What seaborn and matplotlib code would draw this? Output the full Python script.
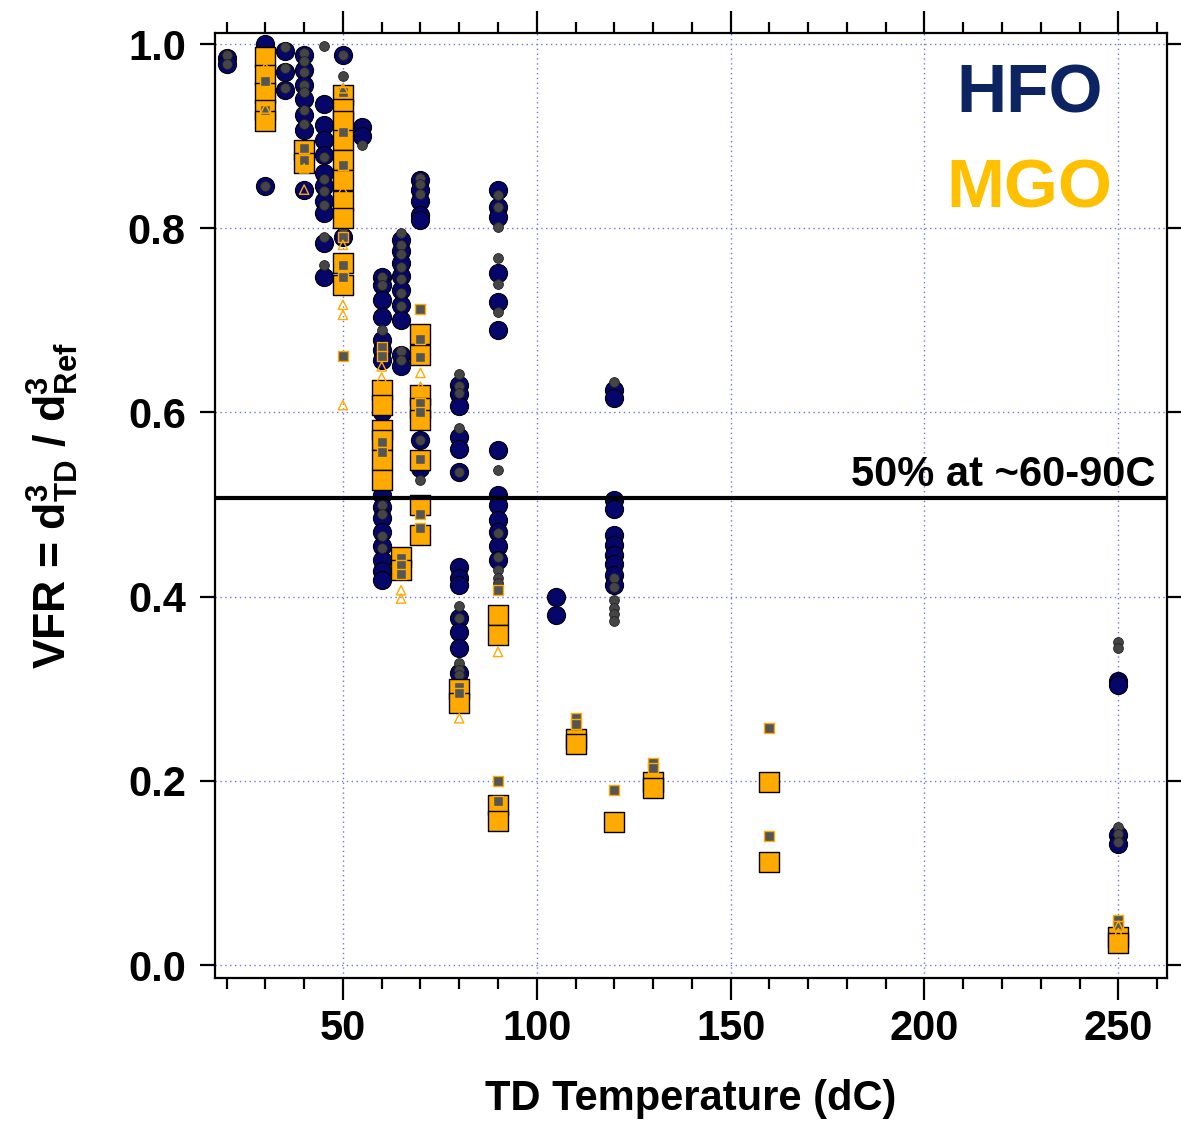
import matplotlib
matplotlib.use("Agg")
import matplotlib.pyplot as plt
from matplotlib.ticker import MultipleLocator, FormatStrFormatter
import seaborn as sns
import pandas as pd

# ---- data: VFR values per thermodenuder temperature ----
hfo = {
    20: [0.985, 0.978],
    30: [1.0, 0.986, 0.966, 0.945, 0.928, 0.846],
    35: [0.993, 0.970, 0.950],
    40: [0.988, 0.972, 0.956, 0.94, 0.923, 0.907, 0.885, 0.842],
    45: [0.935, 0.912, 0.896, 0.88, 0.86, 0.846, 0.83, 0.817, 0.784, 0.747],
    50: [0.988, 0.845, 0.79],
    55: [0.91, 0.9],
    60: [0.747, 0.738, 0.722, 0.704, 0.679, 0.668, 0.657, 0.6, 0.56, 0.51,
         0.497, 0.485, 0.47, 0.455, 0.44, 0.428, 0.418],
    65: [0.787, 0.775, 0.762, 0.748, 0.733, 0.717, 0.70, 0.662, 0.651],
    70: [0.852, 0.842, 0.83, 0.814, 0.809, 0.57, 0.55, 0.54],
    80: [0.63, 0.62, 0.607, 0.573, 0.56, 0.535, 0.432, 0.42, 0.413, 0.377,
         0.362, 0.344, 0.317],
    90: [0.842, 0.823, 0.812, 0.751, 0.72, 0.69, 0.559, 0.51, 0.5, 0.483,
         0.47, 0.455, 0.44],
    105: [0.4, 0.38],
    120: [0.624, 0.616, 0.505, 0.495, 0.467, 0.456, 0.445, 0.435, 0.424, 0.413],
    250: [0.309, 0.304, 0.141, 0.132],
}
hfo_small = {
    20: [0.988, 0.978],
    30: [0.846],
    35: [0.997, 0.974, 0.952],
    40: [0.99, 0.982, 0.97, 0.956, 0.948, 0.928, 0.913],
    45: [0.998, 0.877, 0.853, 0.84, 0.825, 0.79, 0.76],
    50: [0.988, 0.965, 0.8],
    55: [0.89],
    60: [0.747, 0.738, 0.69, 0.5, 0.49, 0.466, 0.453],
    65: [0.795, 0.782, 0.772, 0.758, 0.745, 0.73, 0.716, 0.667, 0.657],
    70: [0.855, 0.848, 0.837, 0.57, 0.527],
    80: [0.642, 0.629, 0.621, 0.583, 0.535, 0.39, 0.377, 0.328, 0.32, 0.315],
    90: [0.836, 0.823, 0.801, 0.768, 0.74, 0.709, 0.538, 0.469, 0.443, 0.429,
         0.42, 0.415],
    120: [0.633, 0.42, 0.41, 0.396, 0.388, 0.381, 0.374],
    250: [0.351, 0.344, 0.15, 0.142, 0.134],
}
mgo = {
    30: [0.986, 0.966, 0.947, 0.928, 0.917],
    40: [0.885, 0.871],
    50: [0.945, 0.93, 0.917, 0.896, 0.874, 0.852, 0.83, 0.811, 0.762, 0.738],
    60: [0.624, 0.608, 0.581, 0.57, 0.548, 0.527],
    65: [0.443, 0.429],
    70: [0.685, 0.662, 0.619, 0.605, 0.592, 0.548, 0.5, 0.467],
    80: [0.3, 0.285],
    90: [0.38, 0.358, 0.174, 0.157],
    110: [0.246, 0.24],
    120: [0.155],
    130: [0.199, 0.192],
    160: [0.199, 0.112],
    250: [0.03, 0.024],
}
mgo_small = {
    30: [0.96, 0.928],
    40: [0.887, 0.874],
    50: [0.948, 0.904, 0.869, 0.79, 0.76, 0.747, 0.661],
    60: [0.671, 0.661, 0.568, 0.557],
    65: [0.442, 0.434, 0.425],
    70: [0.712, 0.68, 0.66, 0.61, 0.6, 0.55, 0.49, 0.475],
    80: [0.302, 0.295],
    90: [0.407, 0.2, 0.178],
    110: [0.268, 0.262],
    120: [0.19],
    130: [0.219, 0.214],
    160: [0.257, 0.14],
    250: [0.049, 0.043],
}
mgo_tri = {
    30: [0.975, 0.93],
    40: [0.865, 0.842],
    50: [0.952, 0.852, 0.842, 0.782, 0.717, 0.706, 0.608],
    60: [0.65, 0.638],
    65: [0.407, 0.398],
    70: [0.643, 0.628],
    80: [0.268],
    90: [0.34],
    250: [0.043, 0.035],
}
half_vfr = 0.507
y_ticks = [0.0, 0.2, 0.4, 0.6, 0.8, 1.0]
x_ticks = [50, 100, 150, 200, 250]


def to_frame(series):
    rows = [(t, v) for t, vals in series.items() for v in vals]
    return pd.DataFrame(rows, columns=["temp", "vfr"])


sns.set_style("white")
plt.rcParams["font.family"] = ["Liberation Sans", "DejaVu Sans"]
plt.rcParams["font.weight"] = "bold"
plt.rcParams["text.color"] = "black"
plt.rcParams["axes.labelcolor"] = "black"
plt.rcParams["xtick.color"] = "black"
plt.rcParams["ytick.color"] = "black"
plt.rcParams["mathtext.fontset"] = "custom"
plt.rcParams["mathtext.rm"] = "Liberation Sans:bold"
plt.rcParams["mathtext.it"] = "Liberation Sans:bold"
plt.rcParams["mathtext.bf"] = "Liberation Sans:bold"

fig = plt.figure(figsize=(11.81, 11.27), dpi=100)
ax = fig.add_axes([0.182, 0.1322, 0.806, 0.8385])

navy = "#05056a"
orange = "#FFAA00"

sns.scatterplot(data=to_frame(hfo), x="temp", y="vfr", ax=ax, marker="o",
                s=170, color=navy, edgecolor="black", linewidth=0.8, zorder=3)
sns.scatterplot(data=to_frame(hfo_small), x="temp", y="vfr", ax=ax, marker="o",
                s=50, color="#454545", edgecolor="#222222", linewidth=0.6, zorder=4)
sns.scatterplot(data=to_frame(mgo), x="temp", y="vfr", ax=ax, marker="s",
                s=195, color=orange, edgecolor="black", linewidth=1.0, zorder=5)
sns.scatterplot(data=to_frame(mgo_small), x="temp", y="vfr", ax=ax, marker="s",
                s=45, color="#555555", edgecolor=orange, linewidth=1.0, zorder=6)
sns.scatterplot(data=to_frame(mgo_tri), x="temp", y="vfr", ax=ax, marker="^",
                s=45, color=orange, edgecolor=orange, linewidth=1.0, zorder=7)
ax.collections[-1].set_facecolor("none")

ax.axhline(half_vfr, color="black", linewidth=3, zorder=8)
ax.text(259.5, 0.52, "50% at ~60-90C", ha="right", va="baseline",
        fontsize=30, fontweight="bold", zorder=9)
ax.text(227, 0.926, "HFO", ha="center", va="baseline", fontsize=50,
        fontweight="bold", color="#0c2461")
ax.text(227, 0.823, "MGO", ha="center", va="baseline", fontsize=50,
        fontweight="bold", color="#FFC000")

ax.set_xlim(17, 262.5)
ax.set_ylim(-0.014, 1.012)
ax.set_xticks(x_ticks)
ax.xaxis.set_minor_locator(MultipleLocator(10))
ax.set_yticks(y_ticks)
ax.yaxis.set_major_formatter(FormatStrFormatter("%.1f"))

ax.grid(True, which="major", color="#6f6fff", linestyle=(0, (1, 2.5)),
        linewidth=1.0, zorder=0)
ax.set_axisbelow(True)

for side in ["left", "right", "top", "bottom"]:
    ax.spines[side].set_visible(True)
    ax.spines[side].set_linewidth(1.6)
    ax.spines[side].set_color("black")

ax.tick_params(axis="x", which="major", direction="out", length=16, width=1.6,
               top=True, bottom=True, labelsize=30, pad=6)
ax.tick_params(axis="x", which="minor", direction="out", length=8, width=1.6,
               top=True, bottom=True)
ax.tick_params(axis="y", which="major", direction="out", length=11, width=1.6,
               left=True, right=True, labelsize=30, pad=10)
for lab in ax.get_xticklabels() + ax.get_yticklabels():
    lab.set_fontweight("bold")

ax.set_xlabel("TD Temperature (dC)", fontsize=30, fontweight="bold", labelpad=22)
ax.set_ylabel(r"VFR = d$^{3}_{\mathrm{TD}}$ / d$^{3}_{\mathrm{Ref}}$",
              fontsize=32, fontweight="bold", labelpad=34)

fig.savefig("out.png", dpi=100)
